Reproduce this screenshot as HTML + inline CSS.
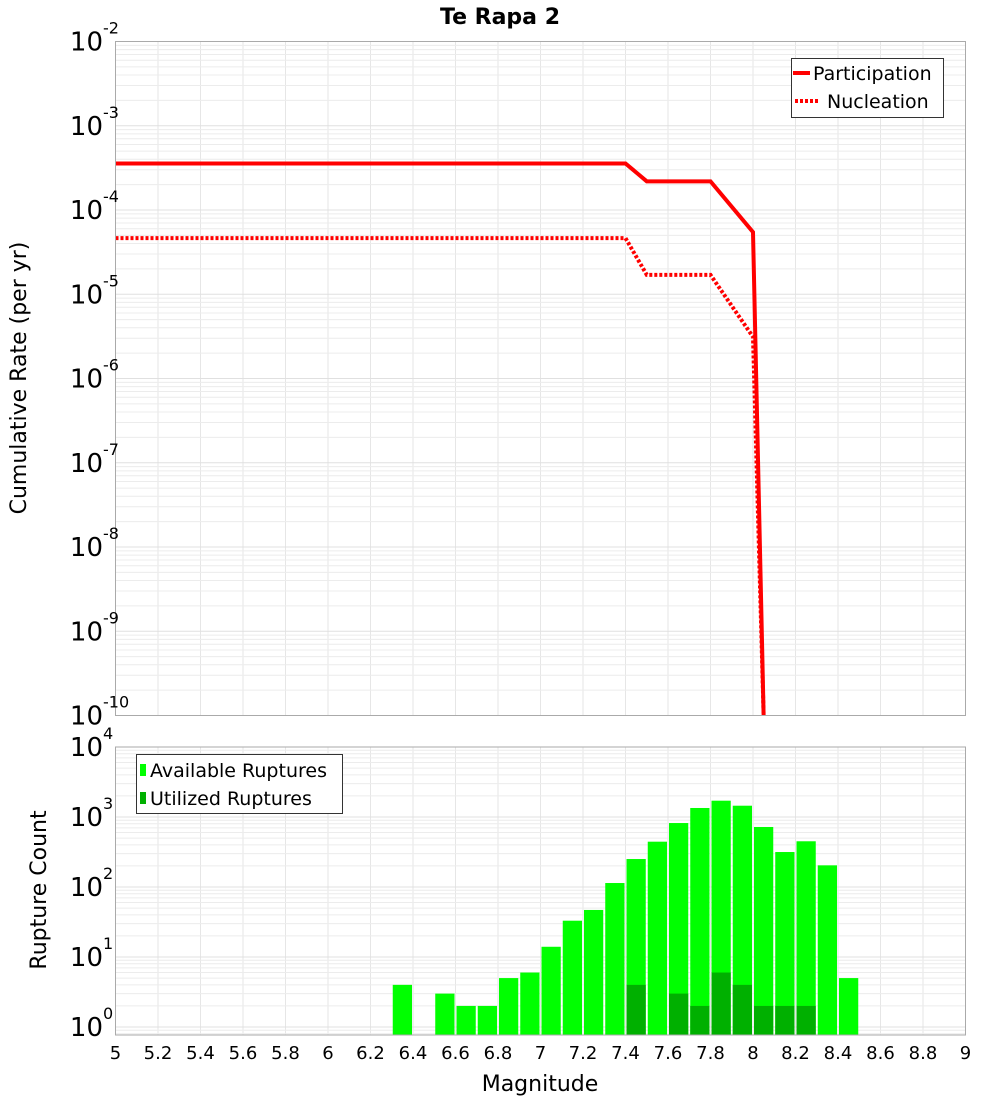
<!DOCTYPE html>
<html><head><meta charset="utf-8">
<style>
html,body{margin:0;padding:0;background:#fff;}
svg{display:block;font-family:"DejaVu Sans","Liberation Sans",sans-serif;}
</style></head>
<body>
<svg id="chart" width="1000" height="1100" xmlns="http://www.w3.org/2000/svg">
<text x="500" y="24" text-anchor="middle" font-size="22" font-weight="bold">Te Rapa 2</text>
<text transform="translate(26,378) rotate(-90)" text-anchor="middle" font-size="22">Cumulative Rate (per yr)</text>
<text transform="translate(46,890) rotate(-90)" text-anchor="middle" font-size="22">Rupture Count</text>
<text x="540" y="1091" text-anchor="middle" font-size="22">Magnitude</text>
<g id="topg"></g>
<g id="botg"></g>
</svg>
<script>
const partMag = [5.0, 7.4, 7.5, 7.8, 8.0, 8.05];
const partRate = [3.57e-4, 3.57e-4, 2.19e-4, 2.19e-4, 5.47e-5, 1e-10];
const nuclMag = [5.0, 7.4, 7.5, 7.8, 8.0, 8.05];
const nuclRate = [4.64e-5, 4.64e-5, 1.70e-5, 1.70e-5, 3.12e-6, 1e-10];
const binStart = [6.3,6.5,6.6,6.7,6.8,6.9,7.0,7.1,7.2,7.3,7.4,7.5,7.6,7.7,7.8,7.9,8.0,8.1,8.2,8.3,8.4];
const availCount = [4,3,2,2,5,6,14,33,47,114,251,444,820,1345,1710,1450,720,316,450,204,5];
const utilStart = [7.4,7.6,7.7,7.8,7.9,8.0,8.1,8.2];
const utilCount = [4,3,2,6,4,2,2,2];
const xTicks = [5,5.2,5.4,5.6,5.8,6,6.2,6.4,6.6,6.8,7,7.2,7.4,7.6,7.8,8,8.2,8.4,8.6,8.8,9];
const topExp = [-2,-3,-4,-5,-6,-7,-8,-9,-10];
const botExp = [4,3,2,1,0];

const NS='http://www.w3.org/2000/svg';
const L=115.5,R=965.5;
const x=m=>L+(m-5)*(R-L)/4;
const TT=41.5,TB=715.5;
const yTop=v=>TT+(-2-Math.log10(v))*(TB-TT)/8;
const BT=747,BB=1035;
const yBot=v=>BT+(4-Math.log10(v))*70;
function mk(p,tag,attrs){const e=document.createElementNS(NS,tag);for(const k in attrs)e.setAttribute(k,attrs[k]);p.appendChild(e);return e;}
const topG=document.getElementById('topg'),botG=document.getElementById('botg');

function grid(g,T,B,yf,decTop,decBot){
  const gg=mk(g,'g',{});
  
  
  xTicks.forEach(t=>{mk(gg,'line',{x1:x(t),x2:x(t),y1:T,y2:B,stroke:'#e6e6e6','stroke-width':1});});
  for(let d=decBot-1;d<decTop;d++){for(let k=1;k<10;k++){const v=k*Math.pow(10,d);const yy=yf(v);if(yy<T-0.5||yy>B+0.5)continue;mk(gg,'line',{x1:L,x2:R,y1:yy,y2:yy,stroke:k==1?'#e0e0e0':'#ececec','stroke-width':1});}}
}
grid(topG,TT,TB,yTop,-2,-10);
const cp=mk(topG,'clipPath',{id:'cpt'});mk(cp,'rect',{x:L,y:TT,width:R-L,height:TB-TT});
function line(mags,rates,name,dash){
  const p=mk(topG,'polyline',{points:mags.map((m,i)=>x(m)+','+yTop(rates[i])).join(' '),fill:'none',stroke:'#ff0000','stroke-width':4,'clip-path':'url(#cpt)'});
  if(dash)p.setAttribute('stroke-dasharray','3,2');
  
  
}
line(nuclMag,nuclRate,'nucleation-line',true);
line(partMag,partRate,'participation-line',false);
mk(topG,'rect',{x:L,y:TT,width:R-L,height:TB-TT,fill:'none',stroke:'#aaa','stroke-width':1});
topExp.forEach(e=>{const yy=yTop(Math.pow(10,e));const t=mk(topG,'text',{x:103,y:yy+9,'text-anchor':'end','font-size':26});t.textContent='10';
  const s=mk(topG,'text',{x:103,y:yy-8,'text-anchor':'start','font-size':16});s.textContent=e;
  
  });
const lg=mk(topG,'g',{});


mk(lg,'rect',{x:791.5,y:58.5,width:152,height:59,fill:'#fff',stroke:'#333','stroke-width':1});
mk(lg,'line',{x1:793,x2:810,y1:73,y2:73,stroke:'#f00','stroke-width':4});
mk(lg,'line',{x1:795,x2:820,y1:101,y2:101,stroke:'#f00','stroke-width':4,'stroke-dasharray':'3,2'});
let t1=mk(lg,'text',{x:813,y:80,'font-size':19});t1.textContent='Participation';
let t2=mk(lg,'text',{x:827,y:108,'font-size':19});t2.textContent='Nucleation';

grid(botG,BT,BB,yBot,4,0);
binStart.forEach((b,i)=>{const r=mk(botG,'rect',{x:x(b)+1,y:yBot(availCount[i]),width:x(b+0.1)-x(b)-2,height:BB-yBot(availCount[i]),fill:'#00ff00'});
  
  });
utilStart.forEach((b,i)=>{const r=mk(botG,'rect',{x:x(b)+1,y:yBot(utilCount[i]),width:x(b+0.1)-x(b)-2,height:BB-yBot(utilCount[i]),fill:'#00b000'});
  
  });
mk(botG,'rect',{x:L,y:BT,width:R-L,height:BB-BT,fill:'none',stroke:'#aaa','stroke-width':1});
botExp.forEach(e=>{const yy=yBot(Math.pow(10,e));const t=mk(botG,'text',{x:103,y:yy+9,'text-anchor':'end','font-size':26});t.textContent='10';
  const s=mk(botG,'text',{x:103,y:yy-8,'text-anchor':'start','font-size':16});s.textContent=e;
  
  });
xTicks.forEach(v=>{const t=mk(botG,'text',{x:x(v),y:1059,'text-anchor':'middle','font-size':18});t.textContent=String(Math.round(v*10)/10);
  
  });
const bl=mk(botG,'g',{});


mk(bl,'rect',{x:136.5,y:754.5,width:206,height:59,fill:'#fff',stroke:'#333','stroke-width':1});
mk(bl,'rect',{x:140,y:764,width:6,height:12,fill:'#00ff00'});
mk(bl,'rect',{x:140,y:792,width:6,height:12,fill:'#00b000'});
let b1=mk(bl,'text',{x:150,y:777,'font-size':19});b1.textContent='Available Ruptures';
let b2=mk(bl,'text',{x:150,y:805,'font-size':19});b2.textContent='Utilized Ruptures';
</script>
</body></html>
